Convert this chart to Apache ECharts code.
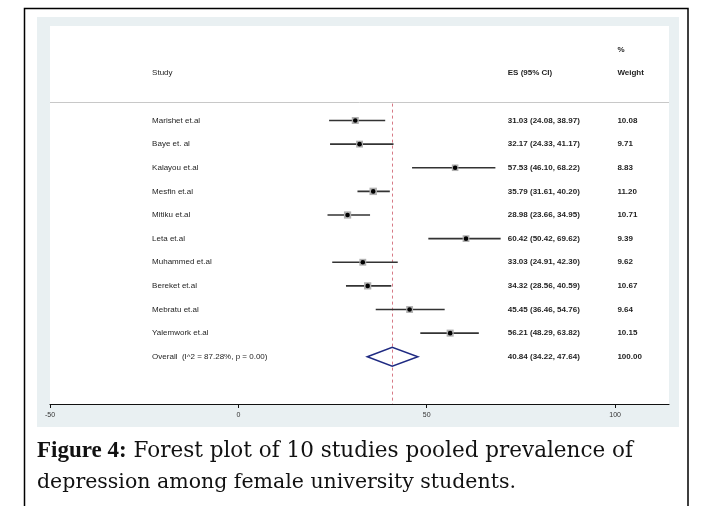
<!DOCTYPE html>
<html>
<head>
<meta charset="utf-8">
<script src="https://cdn.jsdelivr.net/npm/echarts@6/dist/echarts.min.js"></script>
<style>html,body{margin:0;padding:0;background:#fff}#c{width:705px;height:506px}</style>
</head>
<body>
<div id="c"></div>
<script>
// ---------- data ----------
var studies = ["Marishet et.al","Baye et. al","Kalayou et.al","Mesfin et.al","Mitiku et.al","Leta et.al","Muhammed et.al","Bereket et.al","Mebratu et.al","Yalemwork et.al"];
var esValues = [31.03,32.17,57.53,35.79,28.98,60.42,33.03,34.32,45.45,56.21];
var lowerCI  = [24.08,24.33,46.10,31.61,23.66,50.42,24.91,28.56,36.46,48.29];
var upperCI  = [38.97,41.17,68.22,40.20,34.95,69.62,42.30,40.59,54.76,63.82];
var weights  = [10.08,9.71,8.83,11.20,10.71,9.39,9.62,10.67,9.64,10.15];
var overallLabel = "Overall  (I^2 = 87.28%, p = 0.00)";
var overallES = 40.84, overallLo = 34.22, overallHi = 47.64, overallWeight = 100.00;
var xTickValues = [-50, 0, 50, 100];
var headerStudy = "Study", headerES = "ES (95% CI)", headerPct = "%", headerWeight = "Weight";
var captionBold = "Figure 4:";
var captionLine1 = " Forest plot of 10 studies pooled prevalence of";
var captionLine2 = "depression among female university students.";

// ---------- layout constants ----------
var X_MIN = -50, X_MAX = 114.3;
var Y_MIN = -4, Y_MAX = 12;
var COL_STUDY = -22.9, COL_ES = 71.5, COL_WT = 100.6;
var SEP_ROW = -0.8;

function fmt(v){ return v.toFixed(2); }
function ciText(e,l,u){ return fmt(e) + " (" + fmt(l) + ", " + fmt(u) + ")"; }

var rows = studies.map(function(s,i){ return [i]; });

var txtColor = '#1e1e1e';
var font = '"Liberation Sans", Arial, sans-serif';
var capFont = '"DejaVu Serif", serif';

var chart = echarts.init(document.getElementById('c'), null, {renderer:'canvas'});
var option = {
  animation: false,
  backgroundColor: '#ffffff',
  grid: { left: 50, right: 36, top: 26, bottom: 102, show: false, containLabel: false },
  xAxis: {
    type: 'value', min: X_MIN, max: X_MAX, interval: 50,
    splitLine: { show: false },
    axisLine: { show: true, onZero: false, lineStyle: { color: '#111', width: 1.2 } },
    axisTick: { show: true, inside: false, length: 4, lineStyle: { color: '#111', width: 1 }, customValues: xTickValues },
    axisLabel: { show: true, margin: 8, fontSize: 7, color: '#333', fontFamily: font, customValues: xTickValues }
  },
  yAxis: {
    type: 'value', min: Y_MIN, max: Y_MAX, inverse: true, show: false
  },
  graphic: [
    { type: 'rect', z: -20, shape: { x: 24.5, y: 8.5, width: 663.5, height: 520 }, style: { fill: '#ffffff', stroke: '#000', lineWidth: 1.5 } },
    { type: 'rect', z: -19, shape: { x: 37, y: 17, width: 642, height: 410 }, style: { fill: '#e9f0f2' } },
    { type: 'rect', z: -18, shape: { x: 50, y: 26, width: 619, height: 378 }, style: { fill: '#ffffff' } },
    { type: 'text', z: 10, left: 37, top: 440, style: {
        text: '{b|' + captionBold + '}{r|' + captionLine1 + '}',
        rich: {
          b: { fontFamily: '"Liberation Serif", serif', fontWeight: 'bold', fontSize: 23, fill: '#111' },
          r: { fontFamily: capFont, fontSize: 21.5, fill: '#111' }
        }
    } },
    { type: 'text', z: 10, left: 37, top: 472, style: {
        text: captionLine2, fontFamily: capFont, fontSize: 20.5, fill: '#111'
    } }
  ],
  series: [
    { // separator line + dashed overall line + headers
      type: 'custom', clip: false, silent: true,
      data: [[0]],
      renderItem: function(params, api){
        var s1 = api.coord([X_MIN, SEP_ROW]), s2 = api.coord([X_MAX, SEP_ROW]);
        var d1 = api.coord([overallES, SEP_ROW]), d2 = api.coord([overallES, Y_MAX]);
        var pStudy = api.coord([COL_STUDY, -2]);
        var pES = api.coord([COL_ES, -2]);
        var pW = api.coord([COL_WT, -2]);
        var pPct = api.coord([COL_WT, -3]);
        function t(p, str, bold){
          return { type: 'text', x: p[0], y: p[1], style: { text: str, fontFamily: font, fontSize: 8, fontWeight: bold ? 'bold' : 'normal', fill: txtColor, textAlign: 'left', textVerticalAlign: 'middle' } };
        }
        return { type: 'group', children: [
          { type: 'line', shape: { x1: s1[0], y1: Math.round(s1[1]) + 0.5, x2: s2[0], y2: Math.round(s2[1]) + 0.5 }, style: { stroke: '#c8c8c8', lineWidth: 1 } },
          { type: 'line', shape: { x1: Math.round(d1[0]) + 0.5, y1: d1[1] + 2, x2: Math.round(d2[0]) + 0.5, y2: d2[1] }, style: { stroke: '#d77a86', lineWidth: 1, lineDash: [3, 3] } },
          t(pStudy, headerStudy, false), t(pES, headerES, true), t(pW, headerWeight, true), t(pPct, headerPct, true)
        ]};
      }
    },
    { // study rows
      type: 'custom', clip: false, silent: true,
      data: rows,
      renderItem: function(params, api){
        var i = api.value(0);
        var lo = api.coord([lowerCI[i], i]), hi = api.coord([upperCI[i], i]), c = api.coord([esValues[i], i]);
        var box = 7 * Math.sqrt(weights[i] / 10);
        var pS = api.coord([COL_STUDY, i]), pE = api.coord([COL_ES, i]), pW = api.coord([COL_WT, i]);
        return { type: 'group', children: [
          { type: 'line', shape: { x1: lo[0], y1: c[1], x2: hi[0], y2: c[1] }, style: { stroke: '#333', lineWidth: 1.6 } },
          { type: 'rect', shape: { x: c[0] - box/2, y: c[1] - box/2, width: box, height: box }, style: { fill: '#b0b0b0' } },
          { type: 'circle', shape: { cx: c[0], cy: c[1], r: 2.3 }, style: { fill: '#000' } },
          { type: 'text', x: pS[0], y: pS[1], style: { text: studies[i], fontFamily: font, fontSize: 8, fill: txtColor, textVerticalAlign: 'middle' } },
          { type: 'text', x: pE[0], y: pE[1], style: { text: ciText(esValues[i], lowerCI[i], upperCI[i]), fontFamily: font, fontSize: 8, fontWeight: 'bold', fill: txtColor, textVerticalAlign: 'middle' } },
          { type: 'text', x: pW[0], y: pW[1], style: { text: fmt(weights[i]), fontFamily: font, fontSize: 8, fontWeight: 'bold', fill: txtColor, textVerticalAlign: 'middle' } }
        ]};
      }
    },
    { // overall row
      type: 'custom', clip: false, silent: true,
      data: [[studies.length]],
      renderItem: function(params, api){
        var r = api.value(0);
        var l = api.coord([overallLo, r]), h = api.coord([overallHi, r]);
        var top = api.coord([overallES, r - 0.4]), bot = api.coord([overallES, r + 0.4]);
        var pS = api.coord([COL_STUDY, r]), pE = api.coord([COL_ES, r]), pW = api.coord([COL_WT, r]);
        return { type: 'group', children: [
          { type: 'polygon', shape: { points: [[l[0], l[1]], [top[0], top[1]], [h[0], h[1]], [bot[0], bot[1]]] }, style: { fill: 'none', stroke: '#1f2a82', lineWidth: 1.5 } },
          { type: 'text', x: pS[0], y: pS[1], style: { text: overallLabel, fontFamily: font, fontSize: 8, fill: txtColor, textVerticalAlign: 'middle' } },
          { type: 'text', x: pE[0], y: pE[1], style: { text: ciText(overallES, overallLo, overallHi), fontFamily: font, fontSize: 8, fontWeight: 'bold', fill: txtColor, textVerticalAlign: 'middle' } },
          { type: 'text', x: pW[0], y: pW[1], style: { text: fmt(overallWeight), fontFamily: font, fontSize: 8, fontWeight: 'bold', fill: txtColor, textVerticalAlign: 'middle' } }
        ]};
      }
    }
  ]
};
chart.setOption(option);
</script>
</body>
</html>
